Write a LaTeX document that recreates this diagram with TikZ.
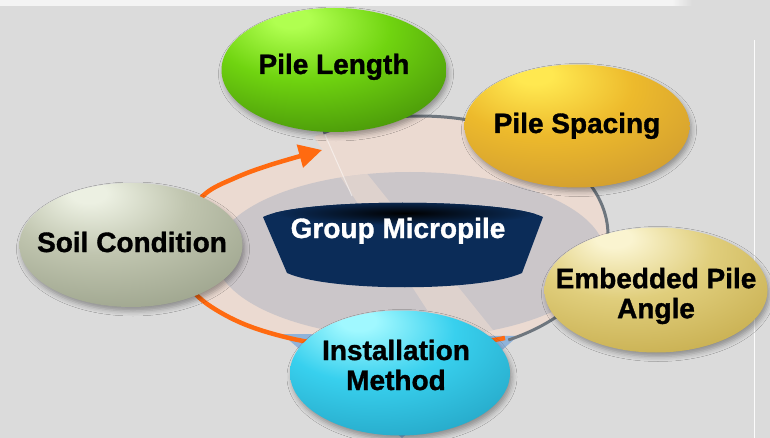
\documentclass[tikz,border=0pt]{standalone}
\usepackage{fontspec}
\setmainfont[BoldFeatures={FakeBold=1.2}]{Liberation Sans}
\usetikzlibrary{shapes.geometric,arrows.meta,shadows.blur}
\definecolor{bg}{HTML}{DBDBDB}
\definecolor{strip}{HTML}{F4F4F4}
\definecolor{peach}{HTML}{EBDAD1}
\definecolor{plate}{HTML}{CBC6C9}
\definecolor{rimgrey}{HTML}{6E767E}
\definecolor{arroworange}{HTML}{FF6A10}
\definecolor{navy}{HTML}{0B2C58}
\definecolor{cone}{HTML}{8FB3DA}
% sphere colours
\definecolor{Lhl}{HTML}{B0FF50}\definecolor{Lc1}{HTML}{70D410}\definecolor{Lc2}{HTML}{459008}\definecolor{Led}{HTML}{3E5210}
\definecolor{Shl}{HTML}{FFE850}\definecolor{Sc1}{HTML}{EDBA2C}\definecolor{Sc2}{HTML}{CE9A30}\definecolor{Sed}{HTML}{A86A66}
\definecolor{Ohl}{HTML}{ECF0E2}\definecolor{Oc1}{HTML}{C0C5AF}\definecolor{Oc2}{HTML}{9AA18A}\definecolor{Oed}{HTML}{646B58}
\definecolor{Ehl}{HTML}{FAF4D0}\definecolor{Ec1}{HTML}{E0CE7C}\definecolor{Ec2}{HTML}{C6AC4C}\definecolor{Eed}{HTML}{8C7C3E}
\definecolor{Ihl}{HTML}{A0F8FF}\definecolor{Ic1}{HTML}{38D0EE}\definecolor{Ic2}{HTML}{24A4C4}\definecolor{Ied}{HTML}{347A6C}
\pgfdeclareradialshading{shL}{\pgfpoint{-10bp}{22bp}}{color(0bp)=(Lhl); color(4bp)=(Lhl); color(20bp)=(Lc1); color(42bp)=(Lc2); color(60bp)=(Led); color(80bp)=(Led)}
\pgfdeclareradialshading{shS}{\pgfpoint{-10bp}{22bp}}{color(0bp)=(Shl); color(4bp)=(Shl); color(20bp)=(Sc1); color(42bp)=(Sc2); color(60bp)=(Sed); color(80bp)=(Sed)}
\pgfdeclareradialshading{shO}{\pgfpoint{-10bp}{22bp}}{color(0bp)=(Ohl); color(4bp)=(Ohl); color(20bp)=(Oc1); color(42bp)=(Oc2); color(60bp)=(Oed); color(80bp)=(Oed)}
\pgfdeclareradialshading{shE}{\pgfpoint{-10bp}{22bp}}{color(0bp)=(Ehl); color(4bp)=(Ehl); color(20bp)=(Ec1); color(42bp)=(Ec2); color(60bp)=(Eed); color(80bp)=(Eed)}
\pgfdeclareradialshading{shI}{\pgfpoint{-10bp}{22bp}}{color(0bp)=(Ihl); color(4bp)=(Ihl); color(20bp)=(Ic1); color(42bp)=(Ic2); color(60bp)=(Ied); color(80bp)=(Ied)}
\begin{document}
\begin{tikzpicture}[x=1pt,y=-1pt,
  sphere/.style={ellipse, inner sep=0pt, shade,
    blur shadow={shadow xshift=2pt, shadow yshift=-4pt, shadow blur radius=5pt, shadow opacity=35}},
  lbl/.style={font=\fontsize{28pt}{30pt}\selectfont\bfseries, text=black, inner sep=0pt, align=center},
  orangearc/.style={draw=arroworange, line width=4.5pt, -{Triangle[length=23pt,width=23pt]}},
  rim/.style={draw=rimgrey, line width=3pt}
]
\useasboundingbox (0,0) rectangle (770,438);
% background
\fill[bg] (0,0) rectangle (770,438);
\fill[strip] (0,0) rectangle (672,6);
\shade[left color=strip, right color=bg] (672,0) rectangle (692,6);
\draw[white!90!bg, line width=1pt] (754,40) -- (754,438);
% peach region
\begin{scope}
  \clip (225,0) -- (800,0) -- (800,438) -- (510,438) -- cycle;
  \fill[peach] (420,235) ellipse [x radius=188pt, y radius=119pt];
\end{scope}
\fill[peach] plot[smooth, tension=0.6] coordinates {(505,338) (420,350) (330,345) (270,333) (225,315) (192,290) (178,255) (184,222) (205,194) (235,178) (270,165) (322,150)} -- (420,200) -- cycle;
% plate
\fill[plate] (410,255) ellipse [x radius=195pt, y radius=83pt];
\begin{scope}
  \clip (410,255) ellipse [x radius=195pt, y radius=83pt];
  \fill[peach, opacity=0.6] (323,150) -- (450,345) -- (505,345) -- (348,150) -- cycle;
\end{scope}
\draw[white, opacity=0.5, line width=1pt] (322,128) -- (352,196);
% blue cone behind installation
\fill[cone] (282,334) -- (518,336) -- (402,438) -- cycle;
% rim and orange arrow
\draw[rim] plot[domain=-62:121, samples=90] ({420+188*cos(\x)},{235-119*sin(\x)});
\draw[orangearc] plot[smooth, tension=0.6] coordinates {(505,338) (420,350) (330,345) (270,333) (225,315) (192,290) (178,255) (184,222) (205,194) (235,178) (270,165) (322,150)};
% group micropile
\fill[navy] (263,217) .. controls (300,198) and (505,198) .. (543,217) -- (522,273) .. controls (480,292) and (330,292) .. (287,273) -- cycle;
\begin{scope}
  \clip (263,217) .. controls (300,198) and (505,198) .. (543,217) -- (522,273) .. controls (480,292) and (330,292) .. (287,273) -- cycle;
  \shade[inner color=black, outer color=navy] (405,213) ellipse [x radius=130pt, y radius=12pt];
\end{scope}
\node[lbl, text=white, anchor=base] (grp) at (398,238) {Group Micropile};
% spheres
\node[sphere, shading=shL, minimum width=225pt, minimum height=124pt] (len) at (334,70) {};
\node[sphere, shading=shS, minimum width=225pt, minimum height=123pt] (spa) at (577,126) {};
\node[sphere, shading=shO, minimum width=223pt, minimum height=124pt] (soil) at (131,245) {};
\node[sphere, shading=shE, minimum width=223pt, minimum height=125pt] (emb) at (656,290) {};
\node[sphere, shading=shI, minimum width=220pt, minimum height=125pt] (ins) at (400,373) {};
% labels
\node[lbl, anchor=base] (lenT) at (334,74) {Pile Length};
\node[lbl, anchor=base] (spaT) at (577,133) {Pile Spacing};
\node[lbl, anchor=base] (soilT) at (132,252) {Soil Condition};
\node[lbl] (embT) at (656,296) {Embedded Pile\\Angle};
\node[lbl] (insT) at (396,365) {Installation\\Method};
\end{tikzpicture}
\end{document}
